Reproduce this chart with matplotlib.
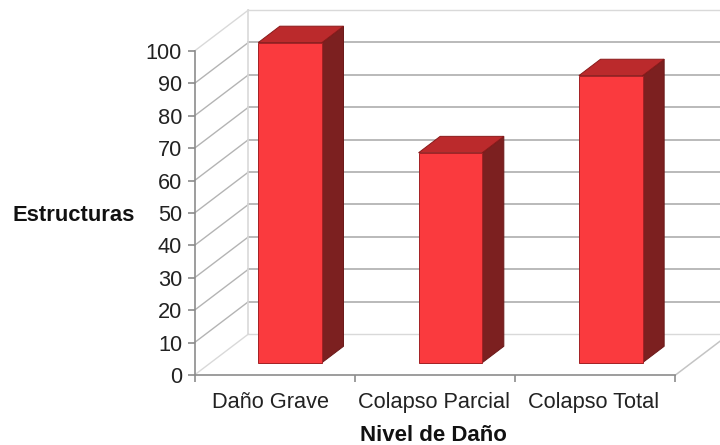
import matplotlib
matplotlib.use("Agg")
import matplotlib.pyplot as plt
from matplotlib.patches import Polygon
from matplotlib.transforms import Affine2D

categories = ["Daño Grave", "Colapso Parcial", "Colapso Total"]
values = [98.8, 64.8, 88.6]
y_ticks = list(range(0, 101, 10))
x_label = "Nivel de Daño"
y_label = "Estructuras"

W, H = 720, 445
plt.rcParams["font.family"] = ["Liberation Sans", "DejaVu Sans"]
fig = plt.figure(figsize=(W / 100, H / 100), dpi=100, facecolor="white")
L, R, T, B = 194.5, 675.5, 51, 375
ax = fig.add_axes([L / W, 1 - B / H, (R - L) / W, (B - T) / H])
ax.set_xlim(-0.5, 2.5)
ax.set_ylim(0, 100)
ax.patch.set_alpha(0)

# depth vector of the 3D box, expressed in data units
DX = 54 / ((R - L) / 3)
DY = 41 / ((B - T) / 100)


def pj(x, y, d=0.0):
    return (x + d * DX, y + d * DY)


x0, x1 = ax.get_xlim()
grid_c, edge_c = "#b4b4b4", "#d9d9d9"
for v in y_ticks:
    col = edge_c if v in (0, 100) else grid_c
    lw = 1.0 if v in (0, 100) else 1.3
    a, b, c = pj(x0, v), pj(x0, v, 1), pj(x1, v, 1)
    ax.plot([a[0], b[0]], [a[1], b[1]], color=col, lw=1.0, clip_on=False, zorder=1)
    ax.plot([b[0], c[0]], [b[1], c[1]], color=col, lw=lw, clip_on=False, zorder=1)
a, b = pj(x0, 0, 1), pj(x0, 100, 1)
ax.plot([a[0], b[0]], [a[1], b[1]], color=edge_c, lw=1.2, clip_on=False, zorder=1)
a, b = pj(x1, 0), pj(x1, 0, 1)
ax.plot([a[0], b[0]], [a[1], b[1]], color="#c4c4c4", lw=1.1, clip_on=False, zorder=1)

bar_w = 0.397
d0, d1 = 0.3, 0.7
nudge = -0.005
for i, v in enumerate(values):
    l, r = i - bar_w / 2 + nudge, i + bar_w / 2 + nudge
    front = [pj(l, 0, d0), pj(r, 0, d0), pj(r, v, d0), pj(l, v, d0)]
    side = [pj(r, 0, d0), pj(r, 0, d1), pj(r, v, d1), pj(r, v, d0)]
    top = [pj(l, v, d0), pj(r, v, d0), pj(r, v, d1), pj(l, v, d1)]
    ax.add_patch(Polygon(side, closed=True, fc="#7c2020", ec="#6a1818", lw=0.7,
                         clip_on=False, zorder=3))
    ax.add_patch(Polygon(top, closed=True, fc="#bb2a2c", ec="#8a1a1a", lw=0.7,
                         clip_on=False, zorder=3))
    ax.add_patch(Polygon(front, closed=True, fc="#fa3a3e", ec="#a32024", lw=0.7,
                         clip_on=False, zorder=4))

for s in ("top", "right"):
    ax.spines[s].set_visible(False)
for s in ("left", "bottom"):
    ax.spines[s].set_color("#8c8c8c")
    ax.spines[s].set_linewidth(1.2)

ax.set_yticks(y_ticks)
ax.set_xticks([i - 0.5 for i in range(len(categories) + 1)])
ax.set_xticklabels([])
ax.set_xticks(range(len(categories)), labels=categories, minor=True)
ax.tick_params(axis="both", which="major", color="#8c8c8c", length=5, width=1.2)
ax.tick_params(axis="y", labelsize=15.7, labelcolor="#222222", pad=4)
ax.tick_params(axis="x", which="minor", length=0, labelsize=15.7,
               labelcolor="#222222", pad=12)
label_shift_px = [-4, -0.5, -2]
for lab, dx in zip(ax.get_xticklabels(minor=True), label_shift_px):
    lab.set_transform(lab.get_transform() + Affine2D().translate(dx, 0))

fig.text(74 / W, 1 - 215 / H, y_label, ha="center", va="center",
         fontsize=15.8, fontweight="bold", color="#111111")
fig.text(433.5 / W, 1 - 435.5 / H, x_label, ha="center", va="center",
         fontsize=16, fontweight="bold", color="#111111")

fig.savefig("out.png", dpi=100, facecolor="white")
